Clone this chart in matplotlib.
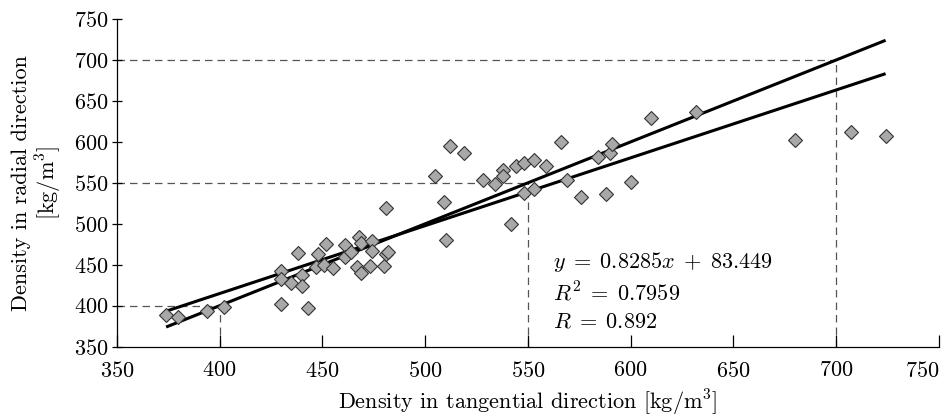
import numpy as np
import matplotlib
matplotlib.use("Agg")
import matplotlib.pyplot as plt

plt.rcParams['font.family'] = 'serif'
plt.rcParams['font.serif'] = ['cmr10']
plt.rcParams['mathtext.fontset'] = 'cm'
plt.rcParams['axes.unicode_minus'] = False
plt.rcParams['axes.formatter.use_mathtext'] = True

tangential = [374, 380, 394, 402, 430, 443, 430, 430, 438, 435, 440, 440,
              448, 452, 447, 451, 455, 461, 461, 464, 468, 469, 474, 474,
              467, 469, 473, 480, 481, 482, 481, 512, 519, 505, 509, 510,
              528, 534, 538, 538, 544, 548, 553, 559, 548, 553, 542, 566,
              569, 576, 588, 600, 584, 590, 591, 610, 632, 680, 707, 724]
radial = [389, 386, 394, 399, 402, 397, 443, 433, 464, 428, 438, 424,
          463, 475, 447, 450, 446, 474, 459, 466, 484, 476, 479, 467,
          447, 440, 449, 449, 463, 465, 519, 595, 587, 558, 527, 480,
          553, 548, 566, 558, 570, 574, 578, 570, 538, 542, 500, 600,
          553, 533, 536, 551, 582, 587, 597, 629, 636, 602, 612, 607]

slope = 0.8285
intercept = 83.449
r2_text = "0.7959"
r_text = "0.892"
guides = [400, 550, 700]
ticks = [350, 400, 450, 500, 550, 600, 650, 700, 750]

FS = 16

fig = plt.figure(figsize=(9.43, 4.17), dpi=100)
ax = fig.add_axes([0.1238, 0.1686, 0.872, 0.7858])

x = np.array(tangential, dtype=float)
y = np.array(radial, dtype=float)
xl = np.array([x.min(), x.max()])

for g in guides:
    ax.plot([350, g], [g, g], color='#555555', lw=0.9, dashes=(6, 4), zorder=1)
    ax.plot([g, g], [350, g], color='#555555', lw=0.9, dashes=(6, 4), zorder=1)

ax.plot(xl, xl, color='black', lw=2.2, zorder=2, solid_capstyle='butt')
ax.plot(xl, slope * xl + intercept, color='black', lw=2.2, zorder=2,
        solid_capstyle='butt')

ax.plot(x, y, linestyle='none', marker='D', markersize=7.2,
        markerfacecolor='#a8a8a8', markeredgecolor='#333333',
        markeredgewidth=0.8, zorder=3)

ax.set_xlim(350, 750)
ax.set_ylim(350, 750)
ax.set_xticks(ticks)
ax.set_yticks(ticks)
ax.spines['top'].set_visible(False)
ax.spines['right'].set_visible(False)
ax.spines['left'].set_linewidth(0.9)
ax.spines['bottom'].set_linewidth(0.9)
ax.tick_params(axis='x', direction='in', length=9, width=0.9, labelsize=FS, pad=10)
ax.tick_params(axis='y', direction='inout', length=7, width=0.9, labelsize=FS, pad=2.5)

xt = ax.get_xticklabels()
xt[-1].set_horizontalalignment('right')

ax.set_xlabel(r'Density in tangential direction [kg/m$^3$]', fontsize=FS, labelpad=5)
ax.set_ylabel('Density in radial direction\n' + r'[kg/m$^3$]', fontsize=FS,
              labelpad=7, linespacing=1.15)

tx = 562.2
ax.text(tx, 453.3, r'$y\;=\;%.4fx\;+\;%.3f$' % (slope, intercept), fontsize=FS,
        va='center', ha='left')
ax.text(tx, 416.0, r'$R^2\;=\;%s$' % r2_text, fontsize=FS, va='center', ha='left')
ax.text(tx, 380.0, r'$R\;=\;%s$' % r_text, fontsize=FS, va='center', ha='left')

fig.savefig('out.png', dpi=100)
